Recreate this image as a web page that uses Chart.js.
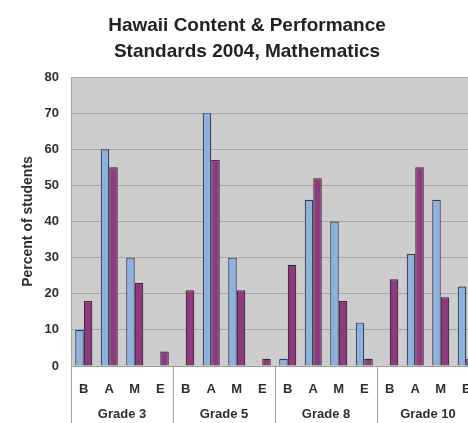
<!DOCTYPE html>
<html>
<head>
<meta charset="utf-8">
<script src="https://cdn.jsdelivr.net/npm/chart.js@4/dist/chart.umd.min.js"></script>
<style>
  html, body { margin: 0; padding: 0; background: #fff; overflow: hidden; }
  #wrap { position: relative; width: 480px; height: 423px; }
</style>
</head>
<body>
<div id="wrap"><canvas id="chart"></canvas></div>
<script>
// Proficiency levels shown under each grade
const levels = ['B', 'A', 'M', 'E'];
const grades = ['Grade 3', 'Grade 5', 'Grade 8', 'Grade 10'];

// Percent of students per level, grades 3, 5, 8, 10 in order
const seriesOne = [10, 60, 30, 0,   0, 70, 30, 0,   2, 46, 40, 12,   0, 31, 46, 22];
const seriesTwo = [18, 55, 23, 4,  21, 57, 21, 2,  28, 52, 18, 2,  24, 55, 19, 2];

const yTicks = { min: 0, max: 80, step: 10 };

const categories = [];
grades.forEach(() => levels.forEach(l => categories.push(l)));

const textColor = '#2e2e2e';
const font = 'Liberation Sans, Arial, sans-serif';

const plotBackground = {
  id: 'plotBackground',
  beforeDraw(chart) {
    const { ctx, chartArea: a } = chart;
    ctx.save();
    ctx.fillStyle = '#fff';
    ctx.fillRect(0, 0, chart.width, chart.height);
    ctx.fillStyle = '#cdcdcd';
    ctx.fillRect(a.left, a.top, a.right - a.left, a.bottom - a.top);
    ctx.restore();
  }
};

new Chart(document.getElementById('chart'), {
  type: 'bar',
  data: {
    labels: categories,
    datasets: [
      {
        label: 'Series 1',
        data: seriesOne,
        backgroundColor: '#8fb1df',
        borderColor: '#2f3a4a',
        borderWidth: 1.2,
        categoryPercentage: 0.67,
        barPercentage: 1.0
      },
      {
        label: 'Series 2',
        data: seriesTwo,
        backgroundColor: '#8f3a7e',
        borderColor: '#35293a',
        borderWidth: 1.2,
        categoryPercentage: 0.67,
        barPercentage: 1.0
      }
    ]
  },
  options: {
    responsive: true,
    maintainAspectRatio: false,
    animation: false,
    layout: { padding: { left: 15, right: 1, top: 0, bottom: 0 } },
    plugins: {
      legend: { display: false },
      tooltip: { enabled: false },
      title: {
        display: true,
        text: ['Hawaii Content & Performance', 'Standards 2004, Mathematics'],
        color: '#222',
        font: { family: font, size: 19, weight: 'bold', lineHeight: 26 / 19 },
        padding: { top: 13, bottom: 12 }
      }
    },
    scales: {
      y: {
        min: yTicks.min,
        max: yTicks.max,
        ticks: {
          stepSize: yTicks.step,
          color: textColor,
          padding: 12,
          font: { family: font, size: 13, weight: 'bold' }
        },
        grid: { color: '#a6a6a6', drawTicks: false, lineWidth: 1 },
        border: { color: '#a6a6a6' },
        title: {
          display: true,
          text: 'Percent of students',
          color: textColor,
          padding: { top: 5, bottom: 0 },
          font: { family: font, size: 14, weight: 'bold' }
        },
        afterFit(scale) { scale.width = 56; }
      },
      x: {
        position: 'bottom',
        ticks: {
          color: textColor,
          padding: -18,
          maxRotation: 0,
          autoSkip: false,
          font: { family: font, size: 13, weight: 'bold' }
        },
        grid: {
          offset: true,
          drawOnChartArea: false,
          tickLength: 34,
          color: ctx => (ctx.index % levels.length === 0 ? '#a6a6a6' : 'rgba(0,0,0,0)')
        },
        border: { color: '#9c9c9c' },
        afterFit(scale) { scale.height = 34; }
      },
      x2: {
        type: 'category',
        position: 'bottom',
        labels: grades,
        offset: true,
        ticks: {
          color: textColor,
          padding: -16,
          maxRotation: 0,
          autoSkip: false,
          font: { family: font, size: 13, weight: 'bold' }
        },
        grid: {
          offset: true,
          drawOnChartArea: false,
          tickLength: 23,
          color: '#a6a6a6'
        },
        border: { display: false },
        afterFit(scale) { scale.height = 23; }
      }
    }
  },
  plugins: [plotBackground]
});
</script>
</body>
</html>
